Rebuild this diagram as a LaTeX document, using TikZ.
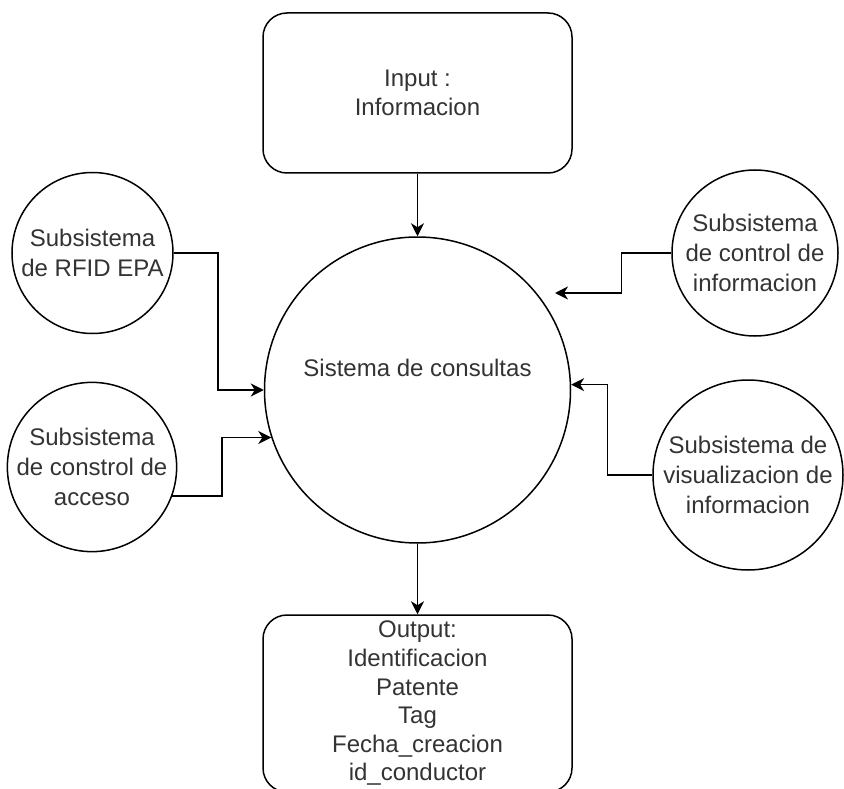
\documentclass[tikz,border=0pt]{standalone}
\usepackage{fontspec}
\setmainfont{Liberation Sans}
\usetikzlibrary{arrows.meta}
\begin{document}
\begin{tikzpicture}[x=1pt, y=-1pt, >={Stealth[length=13pt,width=13pt,inset=4pt]},
  caja/.style={draw, line width=1.5pt, rounded corners=24pt, minimum width=309pt, align=center, text=black!80, font=\fontsize{24}{28.6}\selectfont},
  sub/.style={draw, circle, line width=1.5pt, inner sep=0pt, align=center, text=black!80, font=\fontsize{24}{30}\selectfont},
  flujo/.style={->, line width=1.5pt}]
\useasboundingbox (0,0) rectangle (844,789);
\node[caja, minimum height=160pt] (input) at (417.5,93) {Input :\\Informacion};
\node[caja, minimum height=177pt] (output) at (417.5,703.5) {Output:\\Identificacion\\Patente\\Tag\\Fecha\_creacion\\id\_conductor};
\node[sub, minimum size=306pt, label={[text=black!80, font=\fontsize{24}{30}\selectfont, yshift=22pt]center:Sistema de consultas}] (main) at (417.5,390) {};
\node[sub, minimum size=161pt] (rfid) at (92.5,253) {Subsistema\\de RFID EPA};
\node[sub, minimum size=160pt] (acceso) at (92,467) {Subsistema\\de constrol de\\acceso};
\node[sub, minimum size=166pt] (control) at (755,253) {Subsistema\\de control de\\informacion};
\node[sub, minimum size=190pt] (visual) at (748,475) {Subsistema de\\visualizacion de\\informacion};
\coordinate (tcontrol) at (555,293);
% conexiones
\draw[flujo] (input.south) -- (main.north);
\draw[flujo] (main.south) -- (output.north);
\draw[flujo] (rfid.east) -- ++(44,0) |- (main.west);
\draw[flujo] (acceso.-20) -- ++(50,0) |- (main.198);
\draw[flujo] (control.west) -- ++(-50,0) |- (tcontrol);
\draw[flujo] (visual.west) -- ++(-45,0) |- (main.2);
\end{tikzpicture}
\end{document}
